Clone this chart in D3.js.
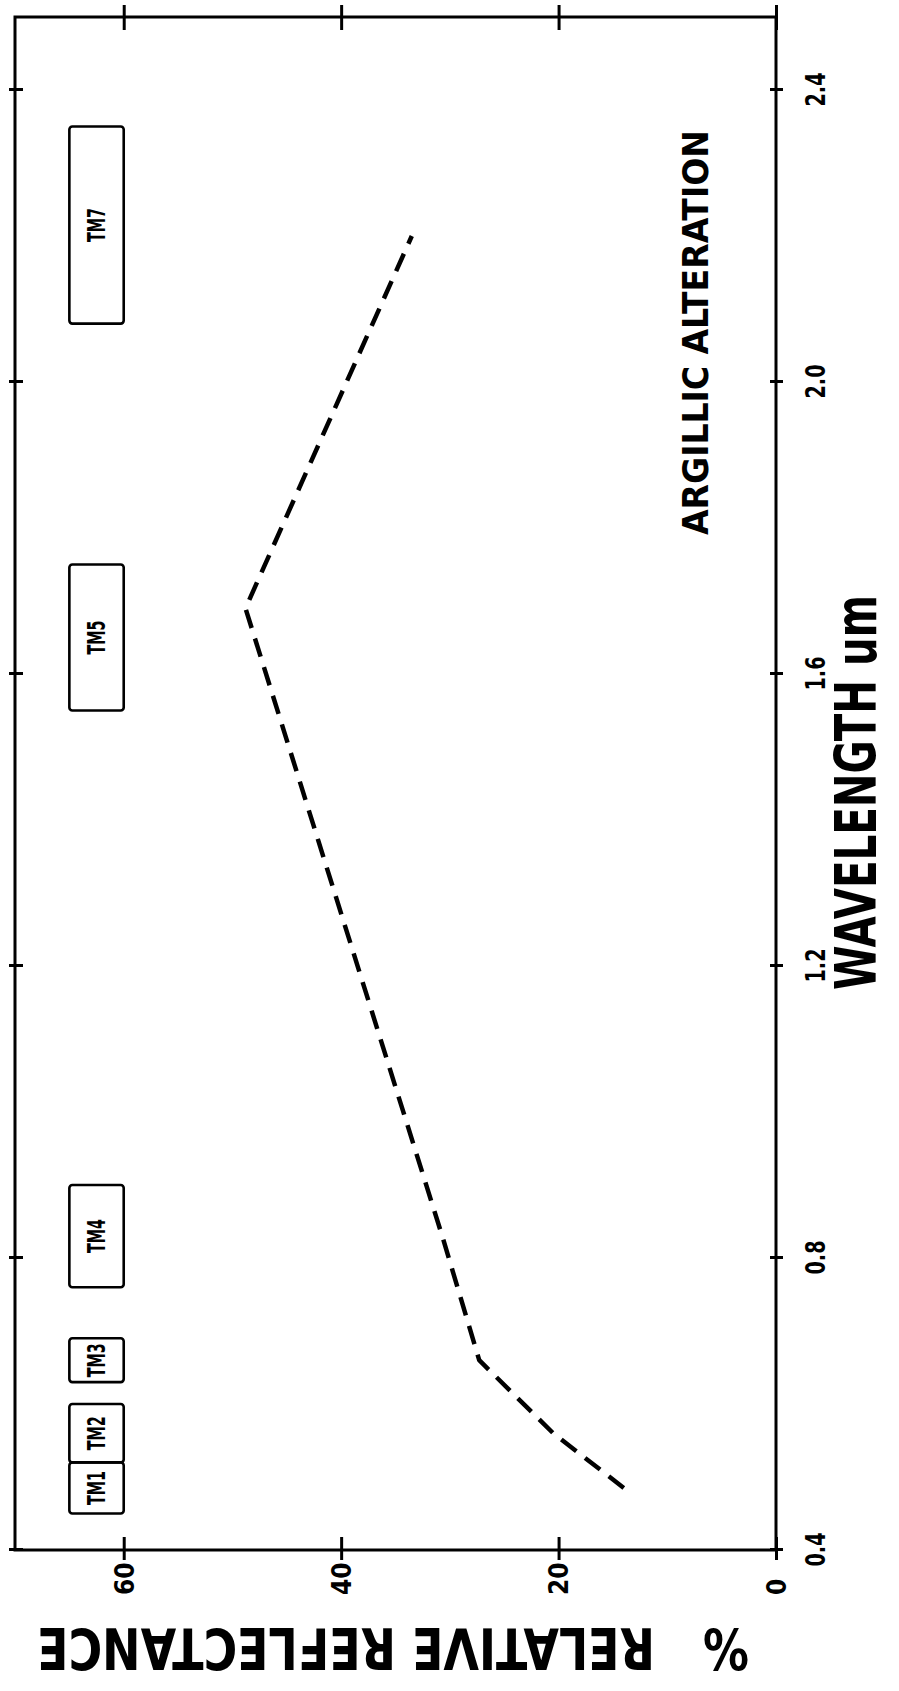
<!DOCTYPE html>
<html><head><meta charset="utf-8">
<script src="https://cdn.jsdelivr.net/npm/d3@7"></script>
<style>
html,body{margin:0;padding:0;background:#fff;}
svg{display:block;background:#fff;}
text{font-family:"Liberation Sans Narrow","DejaVu Sans Condensed","Liberation Sans",sans-serif;font-weight:bold;fill:#000;}
</style></head><body>
<svg id="chart" width="899" height="1691"></svg>
<script>
// ---- data ----
const wavelength = [0.485, 0.56, 0.66, 0.83, 1.69, 2.2];
const reflectance = [14.0, 20.5, 27.3, 30.7, 48.8, 33.5];
const bandNames = ["TM1", "TM2", "TM3", "TM4", "TM5", "TM7"];
const bandStart = [0.45, 0.52, 0.63, 0.76, 1.55, 2.08];
const bandEnd   = [0.52, 0.60, 0.69, 0.90, 1.75, 2.35];
const bandReflRange = [60, 65];
const xTicks = [0.4, 0.8, 1.2, 1.6, 2.0, 2.4];
const xTickLabels = ["0.4", "0.8", "1.2", "1.6", "2.0", "2.4"];
const yTicks = [0, 20, 40, 60];
const yTickLabels = ["0", "20", "40", "60"];
const xDomain = [0.4, 2.5];
const yDomain = [0, 70];
const xTitle = "WAVELENGTH um";
const yTitle = "%   RELATIVE REFLECTANCE";
const noteText = "ARGILLIC ALTERATION";

// ---- layout (chart drawn unrotated, then rotated -90deg) ----
const W = 1533, H = 761;
const svg = d3.select("#chart");
const g = svg.append("g").attr("transform", "translate(15,1550) rotate(-90)");

const x = d3.scaleLinear().domain(xDomain).range([0, W]);
const y = d3.scaleLinear().domain(yDomain).range([H, 0]);

// squeeze a text horizontally (in its own frame) to a given width
function fitWidth(sel, target) {
  const w = sel.node().getComputedTextLength();
  sel.attr("transform", `scale(${target / w},1)`);
}

// frame
g.append("rect").attr("x", 0).attr("y", 0).attr("width", W).attr("height", H)
  .attr("fill", "none").attr("stroke", "#000").attr("stroke-width", 3);

function styleAxis(sel) {
  sel.attr("font-family", null).attr("font-size", null);
  sel.select(".domain").remove();
  sel.selectAll(".tick line").attr("stroke", "#000").attr("stroke-width", 3);
}

// bottom axis (wavelength) -> appears on the right
const axB = g.append("g").attr("transform", `translate(0,${H})`)
  .call(d3.axisBottom(x).tickValues(xTicks).tickFormat((d, i) => xTickLabels[i]).tickSize(7));
styleAxis(axB);
axB.selectAll(".tick line").attr("y1", -6).attr("y2", 7);
axB.selectAll(".tick text").attr("y", 31).attr("dy", "0.71em")
  .style("font-size", "26px").attr("textLength", 34).attr("lengthAdjust", "spacingAndGlyphs");

// top axis (wavelength ticks only)
const axT = g.append("g").call(d3.axisTop(x).tickValues(xTicks).tickFormat(() => "").tickSize(6));
styleAxis(axT);
axT.selectAll(".tick line").attr("y1", 8).attr("y2", -6);

// left axis (reflectance) -> appears at bottom
const axL = g.append("g")
  .call(d3.axisLeft(y).tickValues(yTicks).tickFormat((d, i) => yTickLabels[i]).tickSize(10));
styleAxis(axL);
axL.selectAll(".tick line").attr("x1", 13).attr("x2", -10);
axL.selectAll(".tick text").attr("x", -45).attr("text-anchor", "start")
  .attr("dy", "0.36em").style("font-size", "26px");

// right axis (reflectance ticks only)
const axR = g.append("g").attr("transform", `translate(${W},0)`)
  .call(d3.axisRight(y).tickValues(yTicks).tickFormat(() => "").tickSize(12));
styleAxis(axR);
axR.selectAll(".tick line").attr("x1", -13).attr("x2", 12);

// TM band boxes
const bands = bandNames.map((n, i) => ({name: n, a: bandStart[i], b: bandEnd[i]}));
const bg = g.append("g").selectAll("g").data(bands).join("g");
bg.append("rect")
  .attr("x", d => x(d.a)).attr("width", d => x(d.b) - x(d.a))
  .attr("y", y(bandReflRange[1])).attr("height", y(bandReflRange[0]) - y(bandReflRange[1]))
  .attr("rx", 3).attr("fill", "none").attr("stroke", "#000").attr("stroke-width", 2.6);
bg.append("text")
  .attr("x", d => x((d.a + d.b) / 2)).attr("y", y((bandReflRange[0] + bandReflRange[1]) / 2))
  .attr("dy", "0.36em").attr("text-anchor", "middle").style("font-size", "24px")
  .attr("textLength", 34).attr("lengthAdjust", "spacingAndGlyphs")
  .text(d => d.name);

// dashed spectrum line
const pts = wavelength.map((w, i) => [w, reflectance[i]]);
g.append("path").datum(pts)
  .attr("d", d3.line().x(d => x(d[0])).y(d => y(d[1])))
  .attr("fill", "none").attr("stroke", "#000").attr("stroke-width", 4.5)
  .attr("stroke-dasharray", "19,11").attr("stroke-linejoin", "round");

// note
const gN = g.append("g").attr("transform", "translate(1015,693)");
fitWidth(gN.append("text").style("font-size", "36px").text(noteText), 405);

// x-axis title (right side after rotation)
const gX = g.append("g").attr("transform", "translate(560,861)");
fitWidth(gX.append("text").style("font-size", "57px").text(xTitle), 395);

// y-axis title (bottom, upside down after rotation)
const gY = g.append("g").attr("transform", "translate(-78,378) rotate(-90)");
fitWidth(gY.append("text").attr("text-anchor", "middle").style("font-size", "57px")
  .style("white-space", "pre").text(yTitle), 712);
</script>
</body></html>
